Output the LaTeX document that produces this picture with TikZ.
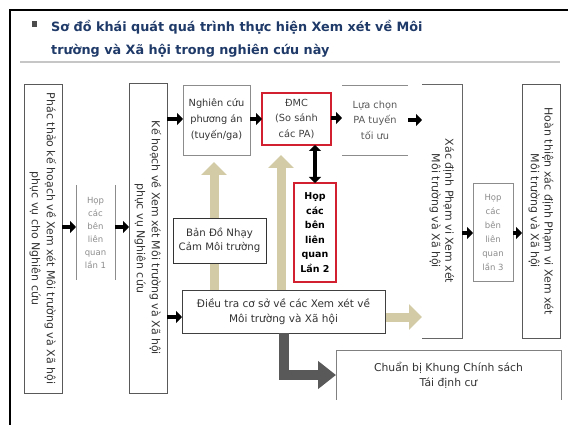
\documentclass[tikz,border=0pt]{standalone}
\usepackage{fontspec}
\setmainfont{DejaVu Sans}
\usetikzlibrary{arrows.meta,calc,backgrounds}
\definecolor{navy}{HTML}{1F3A68}
\definecolor{tanc}{HTML}{D3CBA6}
\definecolor{redb}{HTML}{D22030}
\definecolor{dkg}{HTML}{595959}
\newcommand{\vlab}[4]{\rotatebox{-90}{\parbox{#1}{\centering\fontsize{#2}{#3}\selectfont #4}}}
\begin{document}
\begin{tikzpicture}[x=1pt,y=-1pt,
  box/.style={draw=black!65, line width=0.8pt, fill=white, inner sep=0pt, outer sep=0pt, align=center, text=black!80},
  nobox/.style={inner sep=0pt, outer sep=0pt, align=center, text=black!80},
  redbox/.style={draw=redb, line width=2.5pt, fill=white, inner sep=0pt, outer sep=0pt, align=center, text=black},
  blk/.style={line width=4.5pt, black, -{Triangle[length=6pt,width=12pt]}},
  blk2/.style={line width=4.5pt, black, {Triangle[length=6pt,width=12pt]}-{Triangle[length=6pt,width=12pt]}},
  tanarr/.style={line width=9pt, tanc, -{Triangle[length=13pt,width=25pt]}},
  dkarr/.style={line width=10pt, dkg, line join=miter, -{Triangle[length=18pt,width=27pt]}},
  side/.style={draw=black!60, line width=0.8pt}
]
\useasboundingbox (0,0) rectangle (568,425);
% frame and title
\draw[line width=2pt] (10,425) -- (10,10) -- (568,10);
\draw[gray!45, line width=1.5pt] (20,62) -- (560,62);
\node[fill=black!70, minimum size=5.5pt, inner sep=0pt] (bul) at (34.5,24) {};
\node[anchor=north west, inner sep=0pt, align=left, text=navy, font=\fontsize{12.8}{23}\selectfont\bfseries] (title) at (51,20)
  {Sơ đồ khái quát quá trình thực hiện Xem xét về Môi\\trường và Xã hội trong nghiên cứu này};

% boxes
\node[box, minimum width=38pt, minimum height=309pt] (A) at (43,238.5)
  {\vlab{300pt}{11}{15}{Phác thảo kế hoạch về Xem xét Môi trường và Xã hội\\phục vụ cho Nghiên cứu}};
\node[nobox, minimum width=39pt, minimum height=95pt, text=black!45, font=\fontsize{8.5}{13}\selectfont] (B) at (95.5,232.5)
  {Họp\\các\\bên\\liên\\quan\\lần 1};
\draw[side, draw=black!45] (B.north west) -- (B.south west) (B.north east) -- (B.south east);
\node[box, minimum width=38pt, minimum height=310pt] (C) at (148,238)
  {\vlab{300pt}{11}{15}{Kế hoạch về Xem xét Môi trường và Xã hội\\phục vụ Nghiên cứu}};
\node[box, draw=black!45, minimum width=67pt, minimum height=70pt, font=\fontsize{9.8}{16}\selectfont] (D) at (216.5,120)
  {Nghiên cứu\\phương án\\(tuyến/ga)};
\node[redbox, minimum width=69pt, minimum height=52pt, font=\fontsize{9.8}{15.5}\selectfont, text=black!75] (E) at (296.5,119)
  {ĐMC\\(So sánh\\các PA)};
\node[nobox, minimum width=66pt, minimum height=70pt, font=\fontsize{9.8}{15.5}\selectfont, text=black!65] (F) at (375,120)
  {Lựa chọn\\PA tuyến\\tối ưu};
\draw[side, draw=black!45] (F.north west) -- (F.north east) (F.south west) -- (F.south east);
\node[nobox, minimum width=40pt, minimum height=254pt] (G) at (442,211)
  {\vlab{245pt}{11}{13.5}{Xác định Phạm vi Xem xét\\Môi trường và Xã hội}};
\draw[side] (G.north west) -- (G.north east) -- (G.south east) -- (G.south west);
\node[box, draw=black!45, minimum width=40pt, minimum height=98pt, text=black!45, font=\fontsize{8.5}{14}\selectfont] (H) at (493,232)
  {Họp\\các\\bên\\liên\\quan\\lần 3};
\node[box, minimum width=38pt, minimum height=254pt] (I) at (541,211)
  {\vlab{245pt}{11}{13.5}{Hoàn thiện xác định Phạm vi Xem xét\\Môi trường và Xã hội}};
\node[redbox, minimum width=42pt, minimum height=99pt, font=\fontsize{9.5}{14.5}\selectfont\bfseries] (J) at (315,232.5)
  {Họp\\các\\bên\\liên\\quan\\Lần 2};
\node[box, draw=black!80, minimum width=93pt, minimum height=45pt, font=\fontsize{10.2}{14}\selectfont] (K) at (219.5,240.5)
  {Bản Đồ Nhạy\\Cảm Môi trường};
\node[box, draw=black!75, minimum width=203pt, minimum height=43pt, font=\fontsize{10.5}{15}\selectfont] (L) at (283.5,311.5)
  {Điều tra cơ sở về các Xem xét về\\Môi trường và Xã hội};
\node[nobox, minimum width=225pt, minimum height=50pt, font=\fontsize{10.8}{15}\selectfont] (M) at (448.5,375)
  {Chuẩn bị Khung Chính sách\\Tái định cư};
\draw[side, draw=black!50] (M.south west) -- (M.north west) -- (M.north east) -- (M.south east);

% tan arrows behind
\begin{scope}[on background layer]
\draw[tanarr, shorten >=7pt] (L.north -| 214,0) -- (D.south -| 214,0);
\draw[tanarr, shorten >=10pt] (L.north -| 281,0) -- (E.south -| 281,0);
\draw[tanarr] (L.east |- 0,317) -- (G.west |- 0,317);
\end{scope}

% black arrows
\draw[blk] (A.east |- 0,227) -- (B.west |- 0,227);
\draw[blk] (B.east |- 0,227) -- (C.west |- 0,227);
\draw[blk] (C.east |- 0,119) -- (D.west |- 0,119);
\draw[blk] (C.east |- 0,317) -- (L.west |- 0,317);
\draw[blk] (D.east |- 0,119) -- (E.west |- 0,119);
\draw[blk] (E.east |- 0,118) -- (F.west |- 0,118);
\draw[blk] (F.east |- 0,120) -- (G.west |- 0,120);
\draw[blk] (G.east |- 0,233) -- (H.west |- 0,233);
\draw[blk] (H.east |- 0,233) -- (I.west |- 0,233);
\draw[blk2] (J.north) -- (J.north |- E.south);
% dark elbow arrow
\draw[dkarr] (L.south) |- (M.west);
\end{tikzpicture}
\end{document}
